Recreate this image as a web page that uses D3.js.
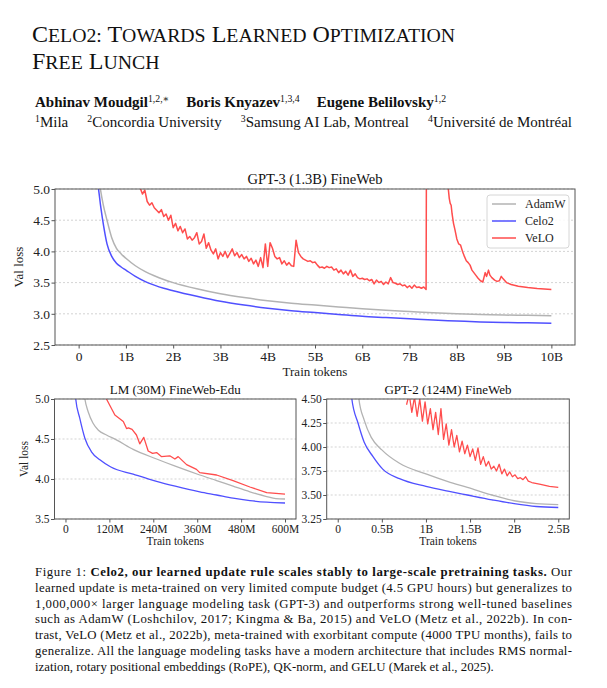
<!DOCTYPE html>
<html>
<head>
<meta charset="utf-8">
<script src="https://cdn.jsdelivr.net/npm/d3@7"></script>
<style>
  body { margin: 0; background: #fff; }
  svg { display: block; font-family: "Liberation Serif", "DejaVu Serif", serif; }
</style>
</head>
<body>
<svg id="page" width="607" height="688"></svg>
<script>
// ---- data ----
var seriesNames = ["AdamW", "Celo2", "VeLO"]
var seriesColors = ["#b3b3b3", "#5050ff", "#ff4d4d"]

// GPT-3 (1.3B) FineWeb, x in billions of tokens
var gpt3XTicks = [0, 1, 2, 3, 4, 5, 6, 7, 8, 9, 10]
var gpt3XLabels = ["0", "1B", "2B", "3B", "4B", "5B", "6B", "7B", "8B", "9B", "10B"]
var gpt3YTicks = [2.5, 3.0, 3.5, 4.0, 4.5, 5.0]
var gpt3Adam = [[0.44, 5.1], [0.46, 5.0], [0.52, 4.75], [0.6, 4.5], [0.7, 4.22], [0.8, 4.05], [0.9, 3.96], [1.0, 3.89],
  [1.2, 3.77], [1.4, 3.68], [1.6, 3.61], [1.8, 3.55], [2.0, 3.5], [2.5, 3.4], [3, 3.32], [3.5, 3.26], [4, 3.21],
  [4.5, 3.17], [5, 3.14], [5.5, 3.11], [6, 3.08], [6.5, 3.055], [7, 3.035], [7.5, 3.015], [8, 3.0], [8.5, 2.99],
  [9, 2.98], [9.5, 2.975], [10, 2.97]]
var gpt3Celo = [[0.40, 5.1], [0.42, 5.0], [0.47, 4.7], [0.53, 4.4], [0.6, 4.12], [0.7, 3.92], [0.8, 3.81], [0.9, 3.75],
  [1.0, 3.7], [1.2, 3.6], [1.4, 3.52], [1.6, 3.46], [1.8, 3.41], [2.0, 3.37], [2.5, 3.28], [3, 3.2], [3.5, 3.14],
  [4, 3.09], [4.5, 3.05], [5, 3.02], [5.5, 2.99], [6, 2.96], [6.5, 2.94], [7, 2.92], [7.5, 2.9], [8, 2.885],
  [8.5, 2.87], [9, 2.86], [9.5, 2.855], [10, 2.85]]
// first VeLO run, one value every 0.05B starting at 1.30B
var gpt3VeloStart = 1.30, gpt3VeloStep = 0.05
var gpt3VeloNoisy = [5.02, 4.92, 4.98, 4.80, 4.74, 4.78, 4.70, 4.66, 4.62, 4.67, 4.56, 4.60, 4.50, 4.58, 4.38, 4.45,
  4.33, 4.40, 4.30, 4.36, 4.20, 4.24, 4.18, 4.22, 4.30, 4.12, 4.16, 4.28, 4.05, 4.14, 4.02, 3.96, 4.04, 3.88, 3.98,
  3.92, 4.00, 3.90, 3.97, 4.04, 3.93, 3.98, 3.90, 3.95, 3.88, 3.92, 3.84, 3.89, 3.80, 3.86, 3.76, 3.90, 3.74, 4.12,
  3.76, 4.14, 4.05, 3.92, 3.88, 3.90, 3.80, 3.85, 3.78, 3.82, 3.77, 3.76, 4.18, 3.98, 3.92, 3.88, 3.86, 3.84, 3.85,
  3.82, 3.83, 3.78, 3.74, 3.75, 3.73, 3.76, 3.74, 3.75, 3.70, 3.72, 3.66, 3.70, 3.64, 3.68, 3.62, 3.70, 3.60, 3.64,
  3.58, 3.56, 3.57, 3.55, 3.56, 3.53, 3.55, 3.48, 3.54, 3.50, 3.52, 3.47, 3.51, 3.48, 3.58, 3.50, 3.49, 3.47, 3.48,
  3.45, 3.46, 3.42, 3.45, 3.41, 3.46, 3.42, 3.43, 3.41, 3.43, 3.39]
// blow-up and second VeLO descent
var gpt3VeloTail = [[7.37, 9], [7.80, 9], [7.82, 5.0], [7.84, 4.85], [7.86, 4.77], [7.88, 4.74], [7.9, 4.6], [7.93, 4.45],
  [7.96, 4.35], [8.0, 4.2], [8.04, 4.12], [8.08, 4.1], [8.12, 4.0], [8.16, 3.92], [8.2, 3.85], [8.24, 3.82],
  [8.28, 3.78], [8.32, 3.7], [8.36, 3.66], [8.4, 3.62], [8.45, 3.57], [8.5, 3.53], [8.55, 3.51], [8.58, 3.6],
  [8.6, 3.66], [8.63, 3.6], [8.67, 3.7], [8.7, 3.62], [8.74, 3.58], [8.8, 3.54], [8.85, 3.52], [8.9, 3.53],
  [8.94, 3.6], [8.98, 3.56], [9.05, 3.5], [9.15, 3.47], [9.3, 3.44], [9.5, 3.42], [9.7, 3.405], [10, 3.39]]

// LM (30M) FineWeb-Edu, x in millions of tokens
var lmXTicks = [0, 120, 240, 360, 480, 600]
var lmXLabels = ["0", "120M", "240M", "360M", "480M", "600M"]
var lmYTicks = [3.5, 4.0, 4.5, 5.0]
var lmAdam = [[50, 5.1], [53, 5.0], [62, 4.84], [75, 4.7], [90, 4.61], [112, 4.55], [139, 4.49], [185, 4.37],
  [249, 4.25], [300, 4.16], [367, 4.05], [413, 3.98], [458, 3.91], [504, 3.84], [550, 3.78], [575, 3.755], [600, 3.75]]
var lmCelo = [[26, 5.1], [28, 5.0], [39, 4.76], [53, 4.51], [71, 4.34], [94, 4.24], [124, 4.15], [185, 4.06],
  [249, 3.97], [300, 3.91], [367, 3.84], [413, 3.8], [458, 3.76], [504, 3.73], [550, 3.71], [600, 3.7]]
var lmVelo = [[110, 5.05], [112, 5.0], [135, 4.8], [158, 4.72], [167, 4.63], [172, 4.64], [182, 4.62], [194, 4.55],
  [203, 4.44], [214, 4.52], [226, 4.35], [238, 4.32], [249, 4.33], [262, 4.28], [285, 4.29], [299, 4.25],
  [308, 4.28], [331, 4.18], [358, 4.12], [367, 4.08], [413, 4.05], [458, 3.98], [504, 3.9], [550, 3.83], [600, 3.81]]

// GPT-2 (124M) FineWeb, x in billions of tokens
var gpt2XTicks = [0, 0.5, 1, 1.5, 2, 2.5]
var gpt2XLabels = ["0", "0.5B", "1B", "1.5B", "2B", "2.5B"]
var gpt2YTicks = [3.25, 3.5, 3.75, 4.0, 4.25, 4.5]
var gpt2Adam = [[0.23, 4.6], [0.24, 4.5], [0.3, 4.28], [0.38, 4.1], [0.5, 3.97], [0.7, 3.83], [1.0, 3.72],
  [1.25, 3.64], [1.47, 3.58], [1.75, 3.5], [2.0, 3.44], [2.25, 3.41], [2.5, 3.40]]
var gpt2Celo = [[0.15, 4.6], [0.16, 4.5], [0.23, 4.25], [0.3, 4.05], [0.4, 3.9], [0.51, 3.77], [0.7, 3.67],
  [1.0, 3.59], [1.25, 3.54], [1.47, 3.5], [1.75, 3.45], [2.0, 3.41], [2.25, 3.38], [2.5, 3.37]]
// VeLO oscillates; one value every 0.03B from 0.78B, then a smooth tail
var gpt2VeloStart = 0.78, gpt2VeloStep = 0.03
var gpt2VeloNoisy = [4.44, 4.55, 4.36, 4.52, 4.32, 4.50, 4.27, 4.47, 4.24, 4.40, 4.18, 4.36, 4.13, 4.40, 4.08, 4.24,
  4.02, 4.18, 4.00, 4.12, 3.95, 4.06, 3.93, 4.02, 3.90, 3.98, 3.86, 3.99, 3.82, 3.90, 3.80, 3.85, 3.77, 3.80, 3.75,
  3.82, 3.72, 3.77, 3.70, 3.74, 3.69, 3.71, 3.67, 3.68, 3.66, 3.69]
var gpt2VeloTail = [[2.16, 3.645], [2.2, 3.63], [2.3, 3.61], [2.4, 3.59], [2.5, 3.58]]

var svg = d3.select("#page")

function withStep(start, step, vals) {
  return vals.map(function (v, i) { return [start + i * step, v] })
}

// ---- header ----
function smallCaps(sel, words, big, small, first) {
  words.forEach(function (w, i) {
    var s = sel.append("tspan").attr("font-size", big).text((i > 0 ? " " : "") + w[0])
    if (i == 0 && first) first(s)
    if (w.length > 1) sel.append("tspan").attr("font-size", small).text(w.slice(1).toUpperCase())
  })
}
// two-line title kept in one text element
var title = svg.append("text").attr("x", 32).attr("y", 42).attr("fill", "#111")
smallCaps(title, ["Celo2:", "Towards", "Learned", "Optimization"], 24, 19.8)
smallCaps(title, ["Free", "Lunch"], 24, 19.8, function (s) { s.attr("x", 32).attr("dy", 27) })

// a row of name + superscript pieces spread between x0 and x1
function spreadRow(items, y, x0, x1, size, bold, supFirst) {
  var nodes = items.map(function (a) {
    var t = svg.append("text").attr("y", y).attr("font-size", size).attr("fill", "#111")
    if (bold) t.attr("font-weight", "bold")
    if (supFirst) {
      t.append("tspan").attr("font-size", size * 0.65).attr("font-weight", "normal").attr("dy", -5.5).text(a[1])
      t.append("tspan").attr("dy", 5.5).text(a[0])
    } else {
      t.append("tspan").text(a[0])
      t.append("tspan").attr("font-size", size * 0.65).attr("font-weight", "normal").attr("dy", -5.5).text(a[1])
    }
    return t
  })
  var widths = nodes.map(function (n) { return n.node().getComputedTextLength() })
  var gap = (x1 - x0 - d3.sum(widths)) / (nodes.length - 1)
  var x = x0
  nodes.forEach(function (n, i) { n.attr("x", x); x += widths[i] + gap })
}
var authors = [["Abhinav Moudgil", "1,2,∗"], ["Boris Knyazev", "1,3,4"], ["Eugene Belilovsky", "1,2"]]
spreadRow(authors, 107, 35, 446, 15, true, false)
var affils = [["Mila", "1"], ["Concordia University", "2"], ["Samsung AI Lab, Montreal", "3"], ["Université de Montréal", "4"]]
spreadRow(affils, 127, 35, 572, 15, false, true)

// ---- panels ----
function panel(o) {
  var x = d3.scaleLinear().domain(o.xd).range([o.left, o.right])
  var y = d3.scaleLinear().domain(o.yd).range([o.bottom, o.top])
  var g = svg.append("g")
  var clipId = "clip" + o.id
  svg.append("clipPath").attr("id", clipId).append("rect")
    .attr("x", o.left).attr("y", o.top).attr("width", o.right - o.left).attr("height", o.bottom - o.top)

  g.selectAll("line.grid").data(o.yt).enter().append("line")
    .attr("x1", o.left).attr("x2", o.right)
    .attr("y1", function (d) { return y(d) }).attr("y2", function (d) { return y(d) })
    .attr("stroke", "#c8c8c8").attr("stroke-width", 0.8).attr("stroke-dasharray", "2,2")

  var smooth = d3.line().x(function (d) { return x(d[0]) }).y(function (d) { return y(d[1]) }).curve(d3.curveMonotoneX)
  var jagged = d3.line().x(function (d) { return x(d[0]) }).y(function (d) { return y(d[1]) })
  var lines = g.append("g").attr("clip-path", "url(#" + clipId + ")")
  o.series.forEach(function (s, i) {
    lines.append("path").datum(s).attr("d", i < 2 ? smooth : jagged).attr("fill", "none")
      .attr("stroke", seriesColors[i]).attr("stroke-width", o.lw).attr("stroke-linejoin", "round")
  })

  var xa = g.append("g").attr("transform", "translate(0," + o.bottom + ")")
    .call(d3.axisBottom(x).tickValues(o.xt).tickFormat(function (d, i) { return o.xl[i] }).tickSize(3.5).tickSizeOuter(0))
  var ya = g.append("g").attr("transform", "translate(" + o.left + ",0)")
    .call(d3.axisLeft(y).tickValues(o.yt).tickFormat(d3.format(o.yf)).tickSize(3.5).tickSizeOuter(0))
  ;[xa, ya].forEach(function (a) {
    a.select(".domain").remove()
    a.selectAll("line").attr("stroke", "#555")
    a.selectAll("text").attr("font-family", "Liberation Serif").attr("font-size", o.fs).attr("fill", "#222")
  })
  xa.selectAll("text").attr("dy", "0.71em").attr("y", 6)
  ya.selectAll("text").attr("x", -5)

  g.append("rect").attr("x", o.left).attr("y", o.top).attr("width", o.right - o.left).attr("height", o.bottom - o.top)
    .attr("fill", "none").attr("stroke", "#555").attr("stroke-width", 1)

  g.append("text").attr("x", (o.left + o.right) / 2).attr("y", o.top - 5).attr("text-anchor", "middle")
    .attr("font-size", o.tfs).attr("fill", "#111").text(o.title)
  g.append("text").attr("x", (o.left + o.right) / 2).attr("y", o.bottom + o.xlabOff).attr("text-anchor", "middle")
    .attr("font-size", o.lfs).attr("fill", "#222").text("Train tokens")
  if (o.ylab) {
    g.append("text").attr("transform", "translate(" + o.ylabX + "," + (o.top + o.bottom) / 2 + ") rotate(-90)")
      .attr("text-anchor", "middle").attr("font-size", o.lfs).attr("fill", "#222").text("Val loss")
  }
  return { x: x, y: y, g: g }
}

panel({
  id: "a", left: 55, right: 575, top: 189, bottom: 345, xd: [-0.5, 10.5], yd: [2.5, 5.0],
  xt: gpt3XTicks, xl: gpt3XLabels, yt: gpt3YTicks, yf: ".1f", fs: 13.5, lfs: 13, tfs: 14.5, lw: 1.5,
  title: "GPT-3 (1.3B) FineWeb", xlabOff: 31, ylab: true, ylabX: 23,
  series: [gpt3Adam, gpt3Celo, withStep(gpt3VeloStart, gpt3VeloStep, gpt3VeloNoisy).concat(gpt3VeloTail)]
})

panel({
  id: "b", left: 54.5, right: 296, top: 399, bottom: 519, xd: [-30, 630], yd: [3.5, 5.0],
  xt: lmXTicks, xl: lmXLabels, yt: lmYTicks, yf: ".1f", fs: 11.5, lfs: 11.5, tfs: 13, lw: 1.3,
  title: "LM (30M) FineWeb-Edu", xlabOff: 26, ylab: true, ylabX: 28,
  series: [lmAdam, lmCelo, lmVelo]
})

panel({
  id: "c", left: 326.7, right: 569.3, top: 399, bottom: 519, xd: [-0.125, 2.625], yd: [3.25, 4.5],
  xt: gpt2XTicks, xl: gpt2XLabels, yt: gpt2YTicks, yf: ".2f", fs: 11.5, lfs: 11.5, tfs: 13, lw: 1.3,
  title: "GPT-2 (124M) FineWeb", xlabOff: 26, ylab: false,
  series: [gpt2Adam, gpt2Celo, withStep(gpt2VeloStart, gpt2VeloStep, gpt2VeloNoisy).concat(gpt2VeloTail)]
})

// legend in the big panel
var lg = svg.append("g")
lg.append("rect").attr("x", 487).attr("y", 195).attr("width", 82).attr("height", 53).attr("rx", 3)
  .attr("fill", "#fff").attr("fill-opacity", 0.85).attr("stroke", "#d6d6d6")
seriesNames.forEach(function (n, i) {
  var yy = 204 + i * 17
  lg.append("line").attr("x1", 492).attr("x2", 516).attr("y1", yy).attr("y2", yy)
    .attr("stroke", seriesColors[i]).attr("stroke-width", 1.5)
  lg.append("text").attr("x", 525).attr("y", yy + 4).attr("font-size", 12).attr("fill", "#222").text(n)
})

// ---- caption ----
var capLines = [
  null,
  "learned update is meta-trained on very limited compute budget (4.5 GPU hours) but generalizes to",
  "1,000,000× larger language modeling task (GPT-3) and outperforms strong well-tuned baselines",
  "such as AdamW (Loshchilov, 2017; Kingma & Ba, 2015) and VeLO (Metz et al., 2022b). In con-",
  "trast, VeLO (Metz et al., 2022b), meta-trained with exorbitant compute (4000 TPU months), fails to",
  "generalize. All the language modeling tasks have a modern architecture that includes RMS normal-",
  "ization, rotary positional embeddings (RoPE), QK-norm, and GELU (Marek et al., 2025)."
]
var capTop = 576, capStep = 15.8
var c0 = svg.append("text").attr("x", 35).attr("y", capTop).attr("font-size", 12.8).attr("fill", "#111")
  .attr("textLength", 537).attr("lengthAdjust", "spacing")
c0.append("tspan").text("Figure 1: ")
c0.append("tspan").attr("font-weight", "bold").text("Celo2, our learned update rule scales stably to large-scale pretraining tasks.")
c0.append("tspan").text(" Our")
capLines.forEach(function (l, i) {
  if (!l) return
  var t = svg.append("text").attr("x", 35).attr("y", capTop + i * capStep).attr("font-size", 12.8).attr("fill", "#111").text(l)
  if (i < capLines.length - 1) t.attr("textLength", 537).attr("lengthAdjust", "spacing")
})
</script>
</body>
</html>
